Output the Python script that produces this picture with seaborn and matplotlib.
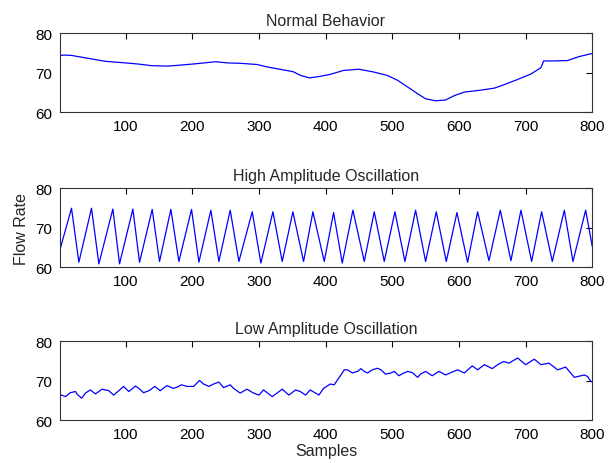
import matplotlib
matplotlib.use("Agg")
import matplotlib.pyplot as plt
import seaborn as sns
import pandas as pd

# ---- Data ----
normal_x = [1, 7, 19, 46, 70, 100, 120, 139, 164, 179, 200, 218, 235, 253, 272, 297,
            312, 331, 351, 363, 376, 392, 407, 427, 450, 472, 493, 508, 523, 538, 550,
            565, 580, 593, 608, 633, 653, 668, 688, 708, 723, 727, 743, 763, 780, 800]
normal_y = [74.3, 74.5, 74.4, 73.6, 72.9, 72.5, 72.2, 71.8, 71.7, 71.9, 72.2, 72.5, 72.8,
            72.5, 72.4, 72.1, 71.5, 70.9, 70.3, 69.3, 68.7, 69.1, 69.6, 70.6, 70.9, 70.2,
            69.3, 68.1, 66.4, 64.7, 63.4, 62.9, 63.1, 64.2, 65.1, 65.6, 66.1, 67.0, 68.3,
            69.7, 71.3, 73.0, 73.0, 73.1, 74.1, 74.9]

high_x = [1, 19, 30, 49, 60, 81, 91, 111, 121, 140, 151, 168, 180, 199, 210, 228, 240,
          257, 270, 290, 303, 321, 335, 351, 367, 381, 398, 412, 425, 441, 458, 473,
          488, 504, 519, 535, 550, 566, 581, 597, 613, 628, 645, 662, 678, 693, 709,
          724, 740, 758, 771, 790, 800]
high_y = [64.0, 74.9, 61.2, 74.9, 60.8, 74.7, 60.8, 74.7, 61.2, 74.6, 61.4, 74.6, 61.4,
          74.6, 61.2, 74.4, 61.4, 74.4, 61.4, 74.0, 61.0, 74.0, 61.4, 74.0, 61.4, 74.0,
          61.4, 73.8, 61.0, 74.4, 61.4, 74.0, 61.4, 74.0, 61.4, 74.4, 61.4, 74.0, 61.4,
          73.8, 61.2, 74.0, 61.6, 74.4, 61.6, 74.4, 61.4, 74.0, 61.4, 74.4, 61.4, 74.4, 65.2]

low_x = [1, 4, 10, 17, 25, 27, 34, 40, 47, 55, 65, 75, 82, 90, 97, 105, 115, 120, 127,
         135, 144, 152, 162, 172, 177, 184, 192, 202, 211, 217, 225, 232, 240, 247, 257,
         262, 272, 282, 292, 300, 307, 320, 335, 345, 355, 362, 370, 377, 390, 397,
         407, 413, 418, 423, 428, 433, 440, 448, 453, 458, 463, 470, 478, 483, 490,
         498, 503, 510, 515, 523, 530, 538, 543, 550, 560, 570, 580, 588, 598, 608,
         620, 628, 638, 643, 650, 658, 667, 675, 688, 700, 713, 723, 735, 748, 760,
         773, 778, 788, 793, 798, 800]
low_y = [66.5, 66.4, 66.0, 67.0, 67.3, 66.7, 65.6, 66.9, 67.7, 66.7, 67.9, 67.5, 66.4,
         67.5, 68.6, 67.3, 68.7, 68.1, 67.0, 67.5, 68.6, 67.5, 68.8, 68.1, 68.4, 69.0,
         68.6, 68.6, 70.1, 69.2, 68.6, 69.2, 69.7, 68.3, 69.0, 68.1, 66.9, 67.9, 66.9,
         66.4, 67.7, 66.0, 67.9, 66.4, 67.7, 67.3, 66.4, 67.7, 66.4, 68.1, 69.2, 69.0,
         70.3, 71.5, 72.8, 72.8, 72.0, 72.4, 73.1, 72.4, 72.0, 72.8, 73.2, 72.8, 71.7,
         72.0, 72.4, 71.3, 71.8, 72.4, 72.1, 70.9, 71.8, 72.4, 71.3, 72.4, 71.5, 72.1,
         72.8, 72.0, 73.8, 72.8, 74.1, 73.7, 73.1, 74.1, 74.9, 74.5, 75.8, 74.1, 75.5,
         74.1, 74.5, 72.8, 73.5, 70.9, 71.1, 71.5, 71.1, 69.8, 69.8]

titles = ["Normal Behavior", "High Amplitude Oscillation", "Low Amplitude Oscillation"]
xticks = [100, 200, 300, 400, 500, 600, 700, 800]
yticks = [60, 70, 80]

sns.set_style("white")
plt.rcParams['font.family'] = ['Liberation Sans', 'DejaVu Sans']

fig = plt.figure(figsize=(6.11, 4.64), dpi=100)
left, width, h = 0.0974, 0.872, 0.170
bottoms = [0.756, 0.4224, 0.092]

series = [(normal_x, normal_y), (high_x, high_y), (low_x, low_y)]
axes = []
for (xs, ys), title, b in zip(series, titles, bottoms):
    ax = fig.add_axes([left, b, width, h])
    df = pd.DataFrame({"x": xs, "y": ys})
    sns.lineplot(data=df, x="x", y="y", ax=ax, color="#0000ff", lw=0.9, estimator=None)
    ax.set_xlim(1, 800)
    ax.set_ylim(60, 80)
    ax.set_xticks(xticks)
    ax.set_yticks(yticks)
    ax.tick_params(direction="in", length=4.5, width=0.8, top=True, right=True,
                   labelsize=11, colors="black", pad=5)
    for s in ax.spines.values():
        s.set_visible(True)
        s.set_color("#333333")
        s.set_linewidth(0.8)
    ax.set_title(title, fontsize=11.5, pad=6)
    ax.set_xlabel("")
    ax.set_ylabel("")
    axes.append(ax)

axes[1].set_ylabel("Flow Rate", fontsize=11.5, labelpad=5)
axes[2].set_xlabel("Samples", fontsize=11.5, labelpad=1)

fig.savefig("out.png", dpi=100)
